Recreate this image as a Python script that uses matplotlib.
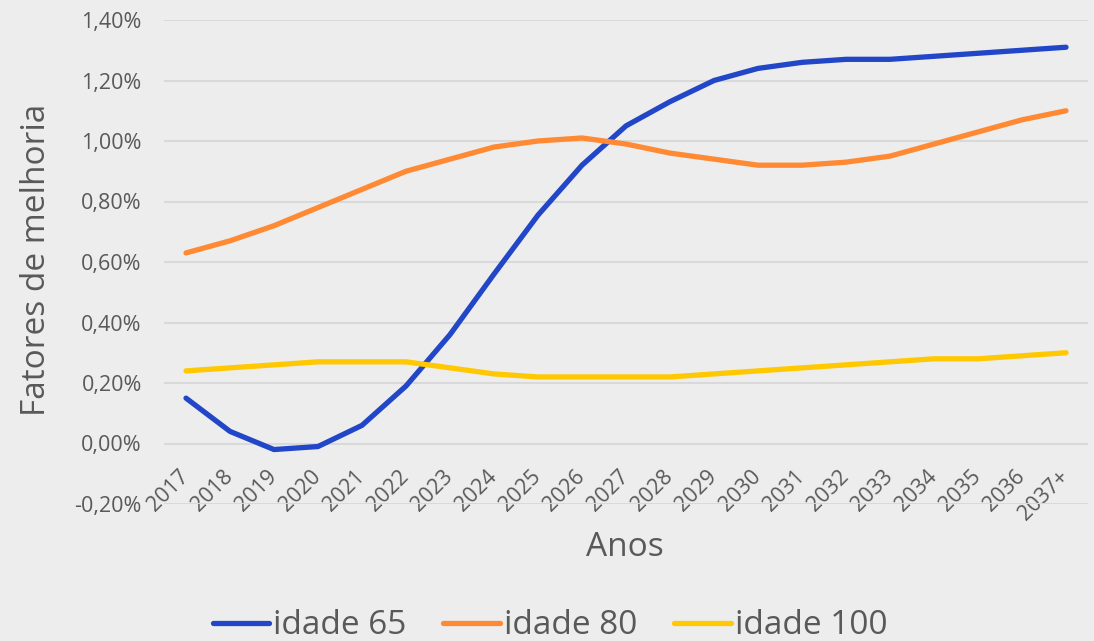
import matplotlib.pyplot as plt
from matplotlib.ticker import FuncFormatter

anos = ['2017', '2018', '2019', '2020', '2021', '2022', '2023', '2024', '2025', '2026',
        '2027', '2028', '2029', '2030', '2031', '2032', '2033', '2034', '2035', '2036', '2037+']
idade_65 = [0.15, 0.04, -0.02, -0.01, 0.06, 0.19, 0.36, 0.56, 0.755, 0.92,
            1.05, 1.13, 1.20, 1.24, 1.26, 1.27, 1.27, 1.28, 1.29, 1.30, 1.31]
idade_80 = [0.63, 0.67, 0.72, 0.78, 0.84, 0.90, 0.94, 0.98, 1.00, 1.01,
            0.99, 0.96, 0.94, 0.92, 0.92, 0.93, 0.95, 0.99, 1.03, 1.07, 1.10]
idade_100 = [0.24, 0.25, 0.26, 0.27, 0.27, 0.27, 0.25, 0.23, 0.22, 0.22,
             0.22, 0.22, 0.23, 0.24, 0.25, 0.26, 0.27, 0.28, 0.28, 0.29, 0.30]

plt.rcParams['font.family'] = ['Open Sans', 'DejaVu Sans']
bg = '#EDEDED'
txt = '#595959'
W, H = 1094, 641

fig = plt.figure(figsize=(W / 100, H / 100), dpi=100, facecolor=bg)
ax = fig.add_axes([164 / W, 1 - 504 / H, (1088 - 164) / W, (504 - 20) / H])
ax.set_facecolor(bg)

x = range(len(anos))
ax.plot(x, idade_65, color='#2146C7', lw=3.8, label='idade 65', solid_capstyle='round')
ax.plot(x, idade_80, color='#FF8A33', lw=3.8, label='idade 80', solid_capstyle='round')
ax.plot(x, idade_100, color='#FFC800', lw=3.8, label='idade 100', solid_capstyle='round')

ax.set_xlim(-0.5, len(anos) - 0.5)
ax.set_ylim(-0.2, 1.4)
ax.set_yticks([-0.2, 0, 0.2, 0.4, 0.6, 0.8, 1.0, 1.2, 1.4])
ax.yaxis.set_major_formatter(FuncFormatter(lambda v, p: f'{v:.2f}%'.replace('.', ',')))
ax.set_xticks(list(x))
ax.set_xticklabels(anos, rotation=45, ha='right', va='center', rotation_mode='anchor')
ax.tick_params(axis='both', length=0, labelsize=15.5, colors=txt)
ax.tick_params(axis='x', pad=-22)
ax.tick_params(axis='y', pad=16)
ax.grid(axis='y', color='#D9D9D9', lw=1.5)
ax.set_axisbelow(True)
for s in ax.spines.values():
    s.set_visible(False)

fig.text(625 / W, 1 - 547 / H, 'Anos', fontsize=24, color=txt, ha='center', va='center')
fig.text(37 / W, 1 - 260 / H, 'Fatores de melhoria', fontsize=24, color=txt,
         ha='center', va='center', rotation=90)

fig.legend(loc='center', ncol=3, frameon=False, fontsize=24, labelcolor=txt,
           bbox_to_anchor=(550 / W, 1 - 626 / H), handlelength=1.7, handletextpad=0.12,
           columnspacing=1.1, borderpad=0)

fig.savefig('out.png', dpi=100, facecolor=bg)
